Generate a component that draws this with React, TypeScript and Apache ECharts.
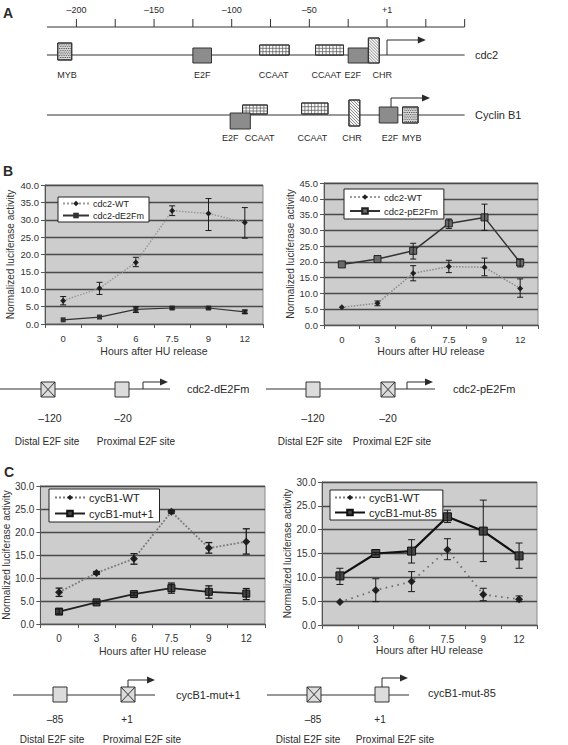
import React, { useEffect, useRef } from 'react';
import * as echarts from 'echarts';

const FONT = '"Liberation Sans", Arial, Helvetica, sans-serif';

// ---------- data ----------
const hours = ['0', '3', '6', '7.5', '9', '12'];

// Panel B left
const bL_wt = [6.7, 10.3, 17.7, 32.6, 31.8, 29.2];
const bL_wtLo = [5.5, 8.5, 16.5, 31.2, 26.9, 24.7];
const bL_wtHi = [7.9, 12.0, 19.2, 34.0, 36.1, 33.5];
const bL_mut = [1.2, 2.0, 4.2, 4.6, 4.6, 3.5];
const bL_mutLo = [1.2, 2.0, 3.3, 4.3, 4.3, 3.0];
const bL_mutHi = [1.2, 2.0, 5.0, 4.9, 4.9, 4.0];

// Panel B right
const bR_wt = [5.6, 6.9, 16.4, 18.5, 18.3, 11.6];
const bR_wtLo = [5.4, 6.1, 14.0, 16.6, 15.6, 8.8];
const bR_wtHi = [5.8, 7.6, 18.8, 20.5, 21.2, 14.6];
const bR_mut = [19.2, 20.9, 23.5, 32.2, 34.1, 19.8];
const bR_mutLo = [19.2, 20.9, 20.9, 30.6, 30.0, 18.4];
const bR_mutHi = [19.2, 20.9, 25.9, 33.6, 38.3, 20.9];

// Panel C left
const cL_wt = [6.9, 11.1, 14.2, 24.4, 16.5, 17.9];
const cL_wtLo = [6.0, 10.8, 13.0, 24.1, 15.4, 15.2];
const cL_wtHi = [7.8, 11.4, 15.3, 24.7, 17.7, 20.7];
const cL_mut = [2.7, 4.7, 6.5, 7.8, 7.0, 6.6];
const cL_mutLo = [2.2, 4.5, 6.2, 6.7, 5.6, 5.3];
const cL_mutHi = [3.3, 4.9, 6.8, 8.9, 8.3, 7.7];

// Panel C right
const cR_wt = [4.8, 7.3, 9.1, 15.8, 6.4, 5.4];
const cR_wtLo = [4.7, 4.9, 7.0, 13.7, 5.1, 4.9];
const cR_wtHi = [4.9, 9.7, 11.2, 18.1, 7.7, 6.1];
const cR_mut = [10.3, 15.0, 15.5, 22.7, 19.7, 14.5];
const cR_mutLo = [8.5, 14.8, 13.0, 21.5, 13.3, 11.9];
const cR_mutHi = [11.9, 15.2, 17.9, 24.1, 26.2, 17.2];

// Panel A promoter maps (positions in bp relative to +1)
const rulerTicks = [-200, -175, -150, -125, -100, -75, -50, -25, 0, 25, 50];
const rulerLabels: Record<string, string> = { '-200': '–200', '-150': '–150', '-100': '–100', '-50': '–50', '0': '+1' };
const cdc2Sites = [
  { name: 'MYB', kind: 'myb', from: -212, to: -203, at: -206 },
  { name: 'E2F', kind: 'e2f', from: -125, to: -113, at: -119 },
  { name: 'CCAAT', kind: 'ccaat', from: -82, to: -63, at: -73 },
  { name: 'CCAAT', kind: 'ccaat', from: -46, to: -28, at: -39 },
  { name: 'E2F', kind: 'e2f', from: -25, to: -12, at: -22 },
  { name: 'CHR', kind: 'chr', from: -12, to: -5, at: -3 },
];
const cycB1Sites = [
  { name: 'E2F', kind: 'e2f', from: -101, to: -88, at: -101 },
  { name: 'CCAAT', kind: 'ccaat', from: -93, to: -77, at: -82 },
  { name: 'CCAAT', kind: 'ccaat', from: -55, to: -38, at: -48 },
  { name: 'CHR', kind: 'chr', from: -24.5, to: -17.5, at: -22.5 },
  { name: 'E2F', kind: 'e2f', from: -5, to: 7, at: 2 },
  { name: 'MYB', kind: 'myb', from: 10, to: 20, at: 16 },
];

// constructs
const constructsB = [
  { name: 'cdc2-dE2Fm', distalMut: true, proxMut: false, distal: '–120', prox: '–20' },
  { name: 'cdc2-pE2Fm', distalMut: false, proxMut: true, distal: '–120', prox: '–20' },
];
const constructsC = [
  { name: 'cycB1-mut+1', distalMut: false, proxMut: true, distal: '–85', prox: '+1' },
  { name: 'cycB1-mut-85', distalMut: true, proxMut: false, distal: '–85', prox: '+1' },
];

// ---------- graphic helpers ----------
const INK = '#2a2a2a';
function txt(x: number, y: number, text: string, size: number, align = 'center', vAlign = 'middle', weight = 'normal') {
  return {
    type: 'text', x, y, silent: true,
    style: { text, fill: INK, fontSize: size, fontFamily: FONT, fontWeight: weight, align, verticalAlign: vAlign },
  };
}
function ln(x1: number, y1: number, x2: number, y2: number, w = 1, c = '#333') {
  return { type: 'line', silent: true, shape: { x1, y1, x2, y2 }, style: { stroke: c, lineWidth: w } };
}
function rect(x: number, y: number, w: number, h: number, fill: string) {
  return { type: 'rect', silent: true, shape: { x, y, width: w, height: h }, style: { fill, stroke: '#333', lineWidth: 1 } };
}
function siteBox(kind: string, x: number, y: number, w: number, h: number) {
  const out: any[] = [];
  if (kind === 'e2f') {
    out.push(rect(x, y, w, h, '#8c8c8c'));
  } else if (kind === 'ccaat') {
    out.push(rect(x, y, w, h, '#fafafa'));
    for (let i = 1; i < 3; i++) out.push(ln(x, y + (h * i) / 3, x + w, y + (h * i) / 3, 0.7, '#555'));
    const n = Math.round(w / 3.4);
    for (let i = 1; i < n; i++) out.push(ln(x + (w * i) / n, y, x + (w * i) / n, y + h, 0.7, '#555'));
    out.push({ ...rect(x, y, w, h, 'none') });
  } else if (kind === 'chr') {
    out.push(rect(x, y, w, h, '#fafafa'));
    const s = 3;
    for (let c = -h + s; c < w; c += s) {
      const sx = c >= 0 ? c : 0;
      const sy = c >= 0 ? 0 : -c;
      const ex = Math.min(w, c + h);
      const ey = ex - c;
      out.push(ln(x + sx, y + sy, x + ex, y + ey, 0.7, '#555'));
    }
    out.push(rect(x, y, w, h, 'none'));
  } else if (kind === 'myb') {
    out.push(rect(x, y, w, h, '#d6d6d6'));
    let row = 0;
    for (let yy = y + 1.5; yy < y + h - 0.5; yy += 1.8) {
      for (let xx = x + 1.2 + (row % 2) * 0.9; xx < x + w - 0.6; xx += 1.8) {
        out.push({ type: 'rect', silent: true, shape: { x: xx, y: yy, width: 0.8, height: 0.8 }, style: { fill: '#333' } });
      }
      row++;
    }
    out.push(rect(x, y, w, h, 'none'));
  } else if (kind === 'cross') {
    out.push(rect(x, y, w, h, '#dcdcdc'));
    out.push(ln(x, y, x + w, y + h, 1, '#333'));
    out.push(ln(x + w, y, x, y + h, 1, '#333'));
  } else if (kind === 'light') {
    out.push(rect(x, y, w, h, '#dcdcdc'));
  }
  return out;
}
function arrow(x0: number, yBase: number, yTop: number, x1: number, w = 1) {
  return [
    { type: 'polyline', silent: true, shape: { points: [[x0, yBase], [x0, yTop], [x1 - 5, yTop]] }, style: { stroke: INK, lineWidth: w, fill: 'none' } },
    { type: 'polygon', silent: true, shape: { points: [[x1 - 8, yTop - 3.5], [x1, yTop], [x1 - 8, yTop + 3.5]] }, style: { fill: INK } },
  ];
}

function buildGraphics() {
  const g: any[] = [];
  // panel letters
  g.push(txt(3, 13, 'A', 14, 'left', 'middle', 'bold'));
  g.push(txt(3, 171, 'B', 14, 'left', 'middle', 'bold'));
  g.push(txt(4, 472, 'C', 14, 'left', 'middle', 'bold'));

  // ---- Panel A ----
  const X = (p: number) => 387 + p * 1.553;
  g.push(ln(X(-219), 27, X(50), 27, 1, '#333'));
  rulerTicks.forEach((t) => {
    g.push(ln(X(t), 19, X(t), 27, 1, '#333'));
    const lab = rulerLabels[String(t)];
    if (lab) g.push(txt(X(t), 10, lab, 9));
  });
  // cdc2 track
  const y1 = 55;
  g.push(ln(X(-219), y1, X(50), y1, 1, '#333'));
  const cdc2Y = [[43, 17], [48, 15], [45, 10], [45, 10], [48, 15], [38, 25]];
  cdc2Sites.forEach((s, i) => {
    g.push(...siteBox(s.kind, X(s.from), cdc2Y[i][0], X(s.to) - X(s.from), cdc2Y[i][1]));
    g.push(txt(X(s.at), 75, s.name, 9));
  });
  g.push(...arrow(X(0), y1, 40, X(25)));
  g.push(txt(475, y1, 'cdc2', 11, 'left'));
  // cyclin B1 track
  const y2 = 115;
  g.push(ln(X(-219), y2, X(50), y2, 1, '#333'));
  const cycY = [[113, 16], [105, 9], [103, 11], [100, 26], [107, 16], [107, 16]];
  const order = [1, 0, 2, 3, 4, 5];
  order.forEach((i) => {
    const s = cycB1Sites[i];
    g.push(...siteBox(s.kind, X(s.from), cycY[i][0], X(s.to) - X(s.from), cycY[i][1]));
  });
  cycB1Sites.forEach((s) => g.push(txt(X(s.at), 138, s.name, 9)));
  g.push(...arrow(X(2.6), 107, 98, X(27.7)));
  g.push(txt(475, y2, 'Cyclin B1', 11, 'left'));

  // ---- Panel B constructs ----
  const bLay = [
    { x0: 0, x1: 170, d: 41, p: 115, ax: 143, ae: 168, nx: 187, dl: 50, pl: 123, dt: 47, pt: 136 },
    { x0: 266, x1: 435, d: 306, p: 381, ax: 407, ae: 433, nx: 453, dl: 313, pl: 388, dt: 310, pt: 392 },
  ];
  constructsB.forEach((c, i) => {
    const L = bLay[i];
    const ly = 389;
    g.push(ln(L.x0, ly, L.x1, ly, 1, '#333'));
    g.push(...siteBox(c.distalMut ? 'cross' : 'light', L.d, 382, 14, 15));
    g.push(...siteBox(c.proxMut ? 'cross' : 'light', L.p, 382, 14, 15));
    g.push(...arrow(L.ax, ly, 382, L.ae));
    g.push(txt(L.nx, ly, c.name, 11, 'left'));
    g.push(txt(L.dl, 418, c.distal, 10.5));
    g.push(txt(L.pl, 418, c.prox, 10.5));
    g.push(txt(L.dt, 441, 'Distal E2F site', 10));
    g.push(txt(L.pt, 441, 'Proximal E2F site', 10));
  });

  // ---- Panel C constructs ----
  const cLay = [
    { x0: 13, x1: 155, d: 53, p: 121, ax: 128, ae: 155, nx: 176, ny: 695, dl: 55, pl: 127, dt: 52, pt: 142, top: 680 },
    { x0: 267, x1: 409, d: 307, p: 375, ax: 382, ae: 408, nx: 428, ny: 693, dl: 313, pl: 380, dt: 308, pt: 395, top: 678 },
  ];
  constructsC.forEach((c, i) => {
    const L = cLay[i];
    const ly = 695;
    g.push(ln(L.x0, ly, L.x1, ly, 1, '#333'));
    g.push(...siteBox(c.distalMut ? 'cross' : 'light', L.d, 687, 14, 15));
    g.push(...siteBox(c.proxMut ? 'cross' : 'light', L.p, 687, 14, 15));
    g.push(...arrow(L.ax, 687, L.top, L.ae));
    g.push(txt(L.nx, L.ny, c.name, 11, 'left'));
    g.push(txt(L.dl, 719, c.distal, 10));
    g.push(txt(L.pl, 719, c.prox, 10));
    g.push(txt(L.dt, 739, 'Distal E2F site', 10));
    g.push(txt(L.pt, 739, 'Proximal E2F site', 10));
  });
  return g;
}

// ---------- chart helpers ----------
const grids = [
  { left: 45, top: 185, width: 218, height: 139 },
  { left: 324, top: 183, width: 214, height: 142 },
  { left: 40, top: 486, width: 225, height: 138 },
  { left: 322, top: 482, width: 215, height: 143 },
];
const yMax = [40, 45, 30, 30];
const yNameGap = [30, 26, 26, 27];
const xNameGap = [21, 20, 21, 18];
const tickFont = [9.5, 9.5, 10, 10];

function errSeries(gi: number, lo: number[], hi: number[], cw: number, w: number) {
  return {
    type: 'custom', xAxisIndex: gi, yAxisIndex: gi, silent: true, z: 5, clip: false,
    data: lo.map((l, i) => [i, l, hi[i]]),
    renderItem: (params: any, api: any) => {
      const a = api.coord([api.value(0), api.value(1)]);
      const b = api.coord([api.value(0), api.value(2)]);
      if (Math.abs(a[1] - b[1]) < 1.5) return { type: 'group', children: [] };
      const st = { stroke: '#1a1a1a', lineWidth: w };
      return {
        type: 'group',
        children: [
          { type: 'line', shape: { x1: a[0], y1: a[1], x2: b[0], y2: b[1] }, style: st },
          { type: 'line', shape: { x1: a[0] - cw, y1: a[1], x2: a[0] + cw, y2: a[1] }, style: st },
          { type: 'line', shape: { x1: b[0] - cw, y1: b[1], x2: b[0] + cw, y2: b[1] }, style: st },
        ],
      };
    },
  };
}
function lineSeries(gi: number, name: string, data: number[], opt: any) {
  return {
    type: 'line', name, data, xAxisIndex: gi, yAxisIndex: gi, z: 4,
    symbol: opt.symbol, symbolSize: opt.size, showSymbol: true,
    itemStyle: { color: opt.mColor, borderColor: opt.mBorder || opt.mColor, borderWidth: opt.mBorder ? 1 : 0, opacity: 1 },
    lineStyle: { color: opt.lColor, width: opt.lWidth, type: opt.lType || 'solid' },
    emphasis: { disabled: true },
  };
}
function legend(left: number, top: number, names: string[], fs: number, iw: number, pad: number[], gap: number) {
  return {
    orient: 'vertical', left, top, data: names, selectedMode: false,
    backgroundColor: '#fff', borderColor: '#222', borderWidth: 1, borderRadius: 0,
    padding: pad, itemGap: gap, itemWidth: iw, itemHeight: 7,
    textStyle: { fontSize: fs, color: '#222', fontFamily: FONT, padding: [0, 0, 0, -1] },
  };
}

export default function App() {
  const ref = useRef<HTMLDivElement>(null);
  useEffect(() => {
    if (!ref.current) return;
    const chart = echarts.init(ref.current, undefined, { renderer: 'svg' });
    const option: any = {
      animation: false,
      backgroundColor: '#fff',
      textStyle: { fontFamily: FONT },
      grid: grids.map((g) => ({
        ...g, show: true, backgroundColor: '#cdcdcd', borderColor: '#8a8a8a', borderWidth: 1, containLabel: false,
      })),
      xAxis: grids.map((_, i) => ({
        gridIndex: i, type: 'category', data: hours, boundaryGap: true,
        axisLine: { lineStyle: { color: '#555', width: 1 } },
        axisTick: { show: true, length: 4, lineStyle: { color: '#555' } },
        axisLabel: { color: '#333', fontSize: tickFont[i], margin: 9, fontFamily: FONT },
        name: 'Hours after HU release', nameLocation: 'middle', nameGap: xNameGap[i],
        nameTextStyle: { fontSize: 10.5, color: '#333', fontFamily: FONT },
        splitLine: { show: false },
      })),
      yAxis: grids.map((_, i) => ({
        gridIndex: i, type: 'value', min: 0, max: yMax[i], interval: 5,
        axisLine: { show: true, lineStyle: { color: '#555', width: 1 } },
        axisTick: { show: true, length: 4, lineStyle: { color: '#555' } },
        axisLabel: { color: '#333', fontSize: tickFont[i], margin: 6, fontFamily: FONT, formatter: (v: number) => v.toFixed(1) },
        splitLine: { show: true, lineStyle: { color: '#4a4a4a', width: 1.3 } },
        name: 'Normalized luciferase activity', nameLocation: 'middle', nameRotate: 90, nameGap: yNameGap[i],
        nameTextStyle: { fontSize: 10, color: '#333', fontFamily: FONT },
      })),
      legend: [
        legend(58, 197, ['cdc2-WT', 'cdc2-dE2Fm'], 9, 26, [2, 5, 2, 4], 3),
        legend(344, 189, ['cdc2-WT', 'cdc2-pE2Fm'], 9.5, 30, [3, 6, 3, 5], 4),
        legend(49, 489, ['cycB1-WT', 'cycB1-mut+1'], 11, 30, [3, 6, 3, 5], 5),
        legend(330, 490, ['cycB1-WT', 'cycB1-mut-85'], 11, 30, [2, 6, 2, 4], 4),
      ],
      series: [
        lineSeries(0, 'cdc2-WT', bL_wt, { symbol: 'diamond', size: 6, mColor: '#222', lColor: '#9a9a9a', lWidth: 1.5, lType: 'dotted' }),
        lineSeries(0, 'cdc2-dE2Fm', bL_mut, { symbol: 'rect', size: 5, mColor: '#333', lColor: '#333', lWidth: 1.2 }),
        errSeries(0, bL_wtLo, bL_wtHi, 3, 1),
        errSeries(0, bL_mutLo, bL_mutHi, 3, 1),

        lineSeries(1, 'cdc2-WT', bR_wt, { symbol: 'diamond', size: 6, mColor: '#222', lColor: '#8a8a8a', lWidth: 1.5, lType: 'dotted' }),
        lineSeries(1, 'cdc2-pE2Fm', bR_mut, { symbol: 'rect', size: 7, mColor: '#6a6a6a', mBorder: '#222', lColor: '#333', lWidth: 1.5 }),
        errSeries(1, bR_wtLo, bR_wtHi, 3, 1),
        errSeries(1, bR_mutLo, bR_mutHi, 3, 1),

        lineSeries(2, 'cycB1-WT', cL_wt, { symbol: 'diamond', size: 8, mColor: '#222', lColor: '#7a7a7a', lWidth: 1.8, lType: 'dotted' }),
        lineSeries(2, 'cycB1-mut+1', cL_mut, { symbol: 'rect', size: 7, mColor: '#444', mBorder: '#111', lColor: '#222', lWidth: 1.8 }),
        errSeries(2, cL_wtLo, cL_wtHi, 3.5, 1.3),
        errSeries(2, cL_mutLo, cL_mutHi, 3.5, 1.3),

        lineSeries(3, 'cycB1-WT', cR_wt, { symbol: 'diamond', size: 8, mColor: '#222', lColor: '#6a6a6a', lWidth: 1.8, lType: [1.5, 4.5] }),
        lineSeries(3, 'cycB1-mut-85', cR_mut, { symbol: 'rect', size: 8, mColor: '#444', mBorder: '#111', lColor: '#111', lWidth: 2.2 }),
        errSeries(3, cR_wtLo, cR_wtHi, 3.5, 1),
        errSeries(3, cR_mutLo, cR_mutHi, 3.5, 1),
      ],
      graphic: { elements: buildGraphics() },
    };
    chart.setOption(option);
    return () => chart.dispose();
  }, []);
  return <div ref={ref} style={{ position: 'fixed', left: 0, top: 0, width: 568, height: 745, background: '#fff' }} />;
}
